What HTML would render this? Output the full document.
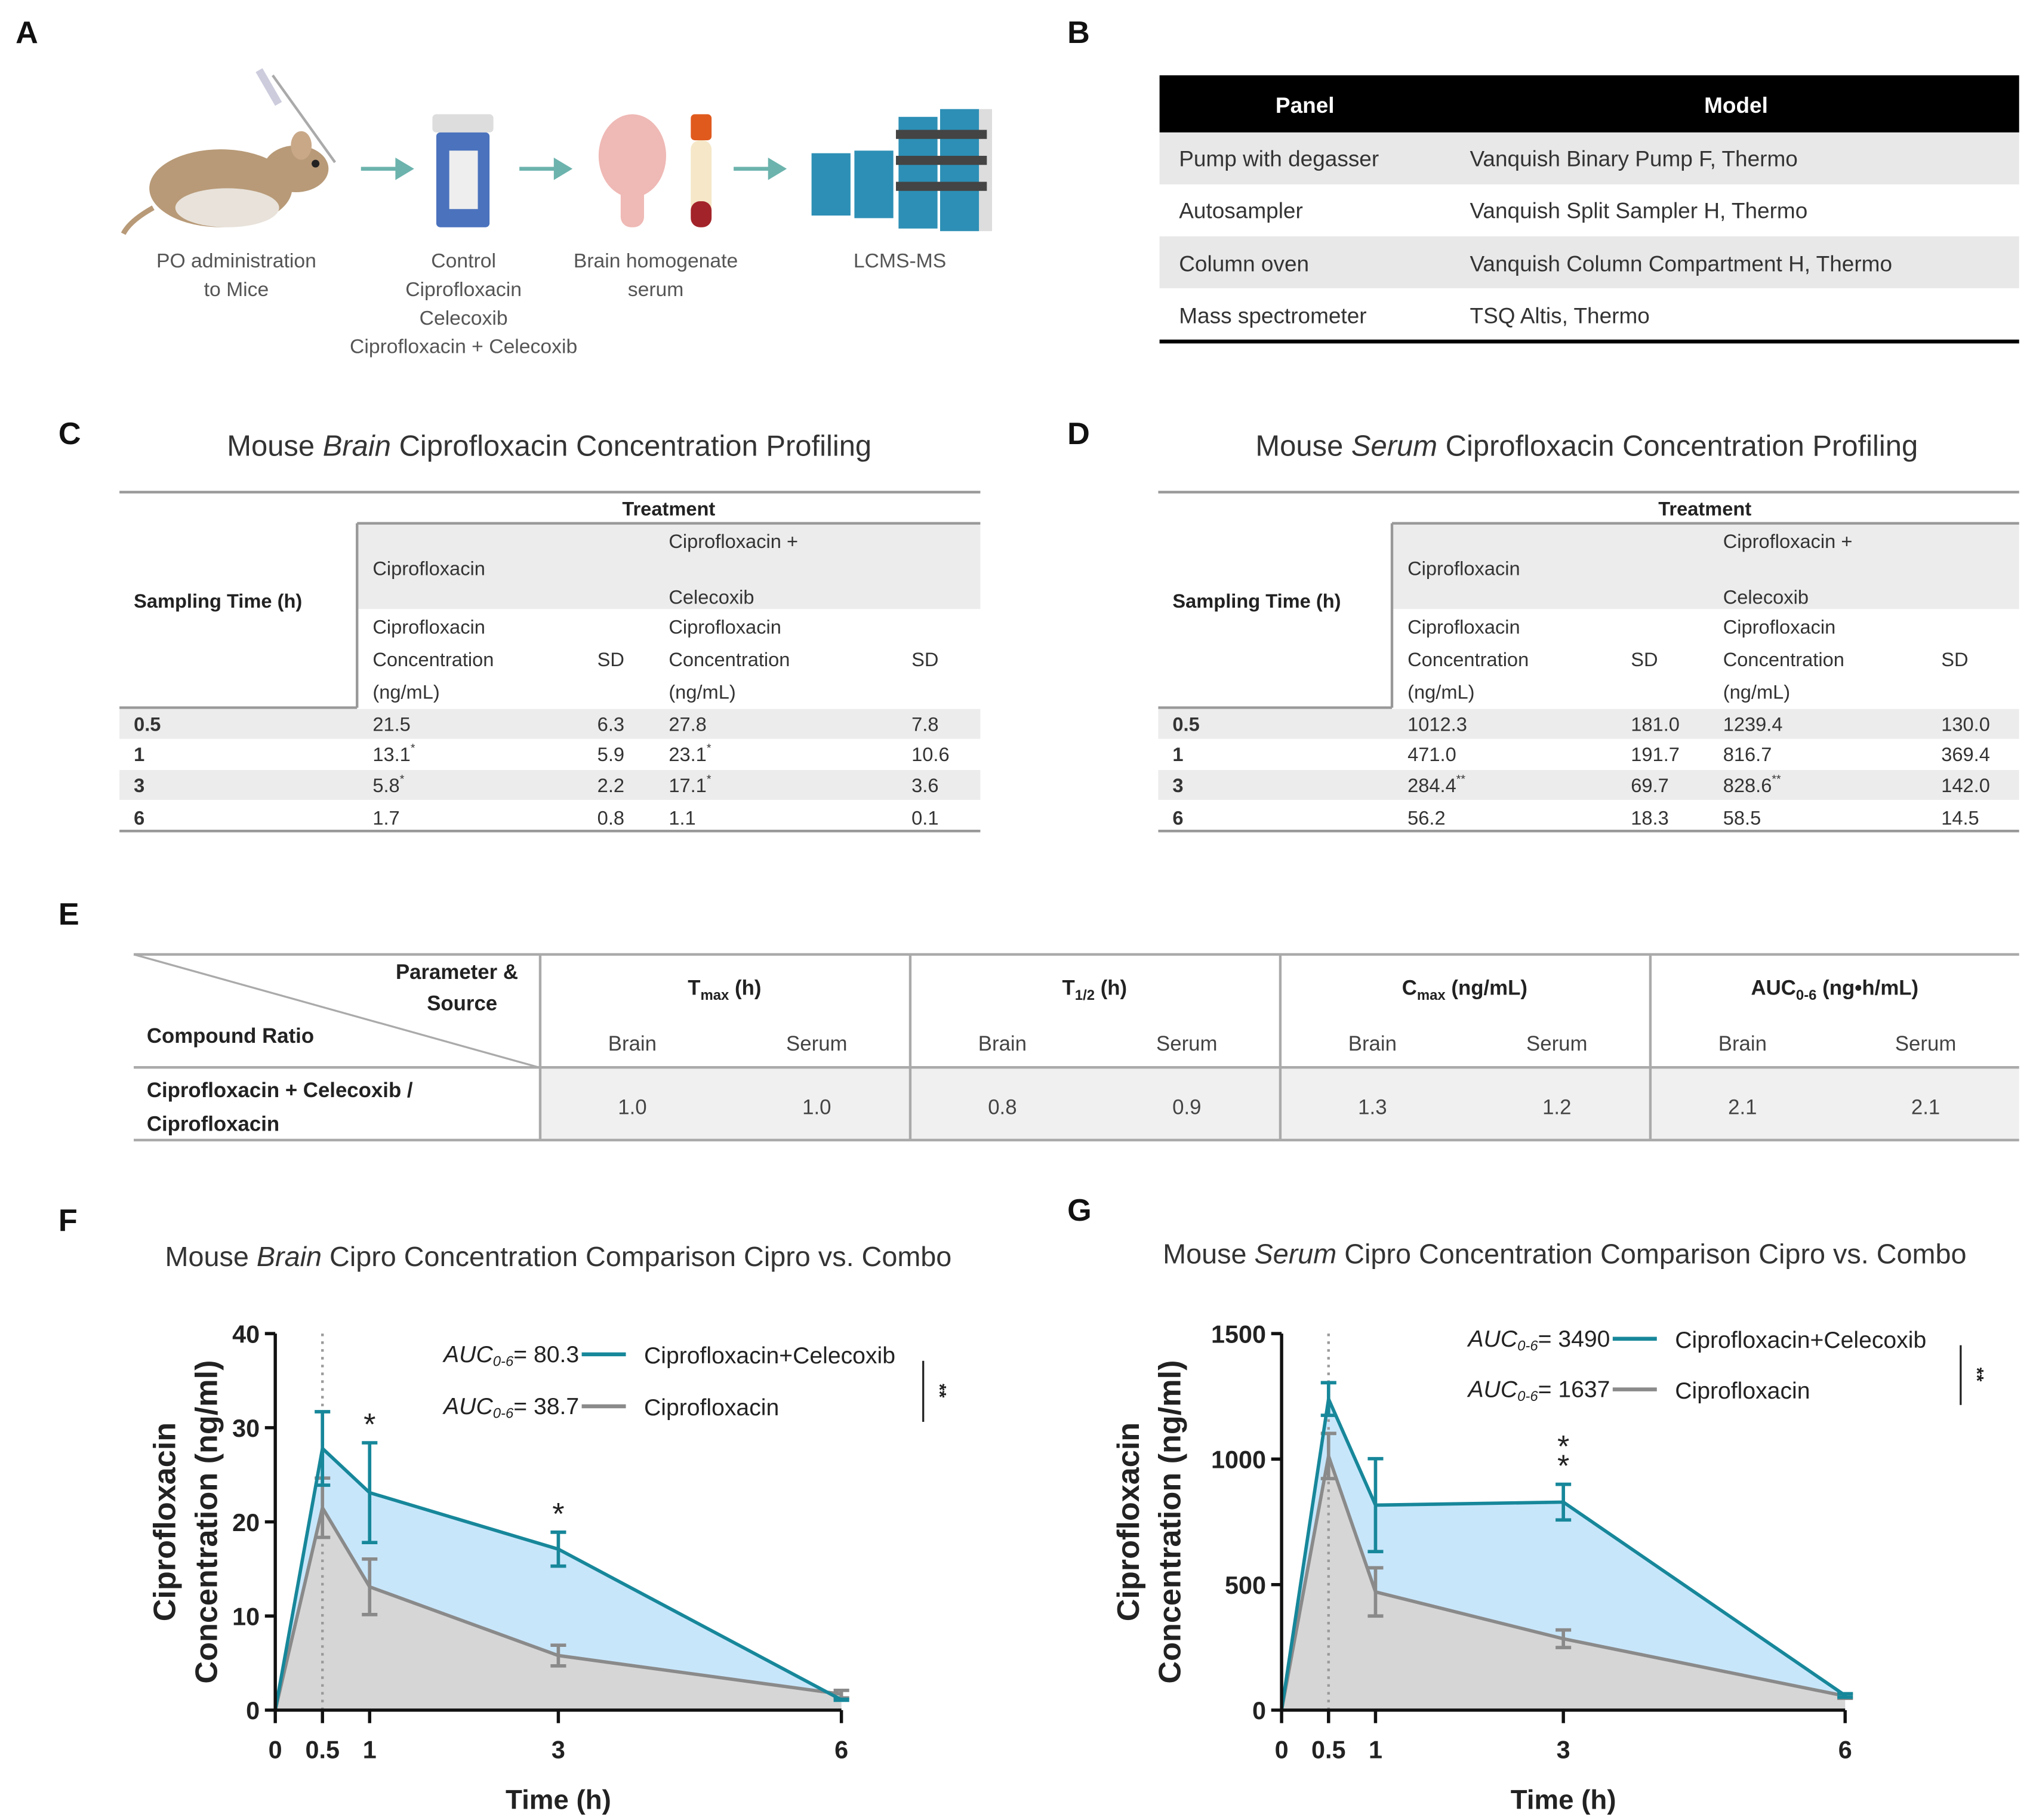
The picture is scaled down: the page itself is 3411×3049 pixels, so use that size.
<!DOCTYPE html>
<html><head><meta charset="utf-8"><style>
html,body{margin:0;padding:0;background:#fff}
svg{display:block}
text{font-family:"Liberation Sans",sans-serif}
</style></head><body>
<svg id="fig" xmlns="http://www.w3.org/2000/svg" width="3411" height="3049" viewBox="0 0 1568 1401.6" preserveAspectRatio="none">
<rect width="1568" height="1402" fill="#fff"/>
<!-- Panel A -->
<g>
<text x="12" y="33" font-size="24" font-weight="bold" fill="#111">A</text>
<g>
<line x1="210" y1="58" x2="258" y2="125" stroke="#aaa" stroke-width="2"/>
<rect x="204" y="52" width="6" height="30" fill="#ccd" transform="rotate(-30 207 67)"/>
<ellipse cx="170" cy="145" rx="55" ry="30" fill="#b89a78"/>
<ellipse cx="175" cy="160" rx="40" ry="15" fill="#e8e2da"/>
<ellipse cx="228" cy="130" rx="25" ry="18" fill="#b89a78"/>
<ellipse cx="232" cy="112" rx="8" ry="11" fill="#c9a888"/>
<circle cx="243" cy="126" r="3" fill="#222"/>
<path d="M118,160 Q100,170 95,180" stroke="#b89a78" stroke-width="4" fill="none"/>
</g>
<g fill="#6cb3ad" stroke="#6cb3ad" stroke-width="3">
<line x1="278" y1="130" x2="308" y2="130"/><path d="M306,124 L316,130 L306,136Z"/>
<line x1="400" y1="130" x2="430" y2="130"/><path d="M428,124 L438,130 L428,136Z"/>
<line x1="565" y1="130" x2="595" y2="130"/><path d="M593,124 L603,130 L593,136Z"/>
</g>
<g>
<rect x="333" y="88" width="47" height="14" rx="3" fill="#ddd"/>
<rect x="336" y="102" width="41" height="73" rx="3" fill="#4a72bd"/>
<rect x="346" y="116" width="22" height="45" fill="#eee"/>
</g>
<g>
<ellipse cx="487" cy="120" rx="26" ry="32" fill="#efb9b5"/>
<rect x="478" y="140" width="18" height="35" rx="8" fill="#efb9b5"/>
<rect x="532" y="88" width="16" height="20" rx="3" fill="#e05a1e"/>
<rect x="532" y="108" width="16" height="67" rx="7" fill="#f5e7c8"/>
<rect x="532" y="155" width="16" height="20" rx="7" fill="#a3232a"/>
</g>
<g>
<rect x="625" y="118" width="30" height="48" fill="#2d8fb5"/>
<rect x="658" y="116" width="30" height="52" fill="#2d8fb5"/>
<rect x="692" y="90" width="30" height="86" fill="#2d8fb5"/>
<rect x="724" y="84" width="30" height="94" fill="#2d8fb5"/>
<rect x="754" y="84" width="10" height="94" fill="#ddd"/>
<rect x="690" y="100" width="70" height="7" fill="#444"/>
<rect x="690" y="120" width="70" height="7" fill="#444"/>
<rect x="690" y="140" width="70" height="7" fill="#444"/>
</g>
<g font-size="15.5" fill="#555" text-anchor="middle">
<text x="182" y="206">PO administration</text><text x="182" y="228">to Mice</text>
<text x="357" y="206">Control</text><text x="357" y="228">Ciprofloxacin</text><text x="357" y="250">Celecoxib</text><text x="357" y="272">Ciprofloxacin + Celecoxib</text>
<text x="505" y="206">Brain homogenate</text><text x="505" y="228">serum</text>
<text x="693" y="206">LCMS-MS</text>
</g>
</g>
<!-- Panel B -->
<g>
<text x="822" y="33" font-size="24" font-weight="bold" fill="#111">B</text>
<rect x="893" y="58" width="662" height="44" fill="#000"/>
<text x="1005" y="87" font-size="17" font-weight="bold" fill="#fff" text-anchor="middle">Panel</text>
<text x="1337" y="87" font-size="17" font-weight="bold" fill="#fff" text-anchor="middle">Model</text>
<rect x="893" y="102" width="662" height="40" fill="#e8e8e8"/>
<rect x="893" y="182" width="662" height="40" fill="#e8e8e8"/>
<line x1="893" y1="263" x2="1555" y2="263" stroke="#000" stroke-width="3"/>
<g font-size="17" fill="#333">
<text x="908" y="128">Pump with degasser</text><text x="1132" y="128">Vanquish Binary Pump F, Thermo</text>
<text x="908" y="168">Autosampler</text><text x="1132" y="168">Vanquish Split Sampler H, Thermo</text>
<text x="908" y="209">Column oven</text><text x="1132" y="209">Vanquish Column Compartment H, Thermo</text>
<text x="908" y="249">Mass spectrometer</text><text x="1132" y="249">TSQ Altis, Thermo</text>
</g>
</g>
<!-- Panel C -->
<g>
<text x="45" y="342" font-size="24" font-weight="bold" fill="#111">C</text>
<text x="423" y="351" font-size="22.5" fill="#333" text-anchor="middle">Mouse <tspan font-style="italic">Brain</tspan> Ciprofloxacin Concentration Profiling</text>
<line x1="92" y1="379" x2="755" y2="379" stroke="#999" stroke-width="2"/>
<text x="515" y="397" font-size="15" font-weight="bold" fill="#222" text-anchor="middle">Treatment</text>
<rect x="275" y="404" width="480" height="65" fill="#ececec"/>
<line x1="275" y1="403" x2="755" y2="403" stroke="#999" stroke-width="2"/>
<line x1="275" y1="403" x2="275" y2="545" stroke="#999" stroke-width="2"/>
<line x1="92" y1="545" x2="275" y2="545" stroke="#999" stroke-width="2"/>
<text x="103" y="468" font-size="15" font-weight="bold" fill="#222">Sampling Time (h)</text>
<g font-size="15" fill="#333">
<text x="287" y="443">Ciprofloxacin</text><text x="515" y="422">Ciprofloxacin +</text><text x="515" y="465">Celecoxib</text>
<text x="287" y="488">Ciprofloxacin</text><text x="287" y="513">Concentration</text><text x="287" y="538">(ng/mL)</text><text x="460" y="513">SD</text>
<text x="515" y="488">Ciprofloxacin</text><text x="515" y="513">Concentration</text><text x="515" y="538">(ng/mL)</text><text x="702" y="513">SD</text>
</g>
<rect x="92" y="546" width="663" height="23" fill="#ececec"/>
<rect x="92" y="593" width="663" height="23" fill="#ececec"/>
<line x1="92" y1="640" x2="755" y2="640" stroke="#999" stroke-width="2"/>
<g font-size="15" fill="#333">
<text x="103" y="563" font-weight="bold">0.5</text><text x="287" y="563">21.5</text><text x="460" y="563">6.3</text><text x="515" y="563">27.8</text><text x="702" y="563">7.8</text>
<text x="103" y="586" font-weight="bold">1</text><text x="287" y="586">13.1<tspan font-size="9" dy="-7">*</tspan></text><text x="460" y="586">5.9</text><text x="515" y="586">23.1<tspan font-size="9" dy="-7">*</tspan></text><text x="702" y="586">10.6</text>
<text x="103" y="610" font-weight="bold">3</text><text x="287" y="610">5.8<tspan font-size="9" dy="-7">*</tspan></text><text x="460" y="610">2.2</text><text x="515" y="610">17.1<tspan font-size="9" dy="-7">*</tspan></text><text x="702" y="610">3.6</text>
<text x="103" y="635" font-weight="bold">6</text><text x="287" y="635">1.7</text><text x="460" y="635">0.8</text><text x="515" y="635">1.1</text><text x="702" y="635">0.1</text>
</g>
</g>
<!-- Panel D -->
<g>
<text x="822" y="342" font-size="24" font-weight="bold" fill="#111">D</text>
<text x="1222" y="351" font-size="22.5" fill="#333" text-anchor="middle">Mouse <tspan font-style="italic">Serum</tspan> Ciprofloxacin Concentration Profiling</text>
<line x1="892" y1="379" x2="1555" y2="379" stroke="#999" stroke-width="2"/>
<text x="1313" y="397" font-size="15" font-weight="bold" fill="#222" text-anchor="middle">Treatment</text>
<rect x="1072" y="404" width="483" height="65" fill="#ececec"/>
<line x1="1072" y1="403" x2="1555" y2="403" stroke="#999" stroke-width="2"/>
<line x1="1072" y1="403" x2="1072" y2="545" stroke="#999" stroke-width="2"/>
<line x1="892" y1="545" x2="1072" y2="545" stroke="#999" stroke-width="2"/>
<text x="903" y="468" font-size="15" font-weight="bold" fill="#222">Sampling Time (h)</text>
<g font-size="15" fill="#333">
<text x="1084" y="443">Ciprofloxacin</text><text x="1327" y="422">Ciprofloxacin +</text><text x="1327" y="465">Celecoxib</text>
<text x="1084" y="488">Ciprofloxacin</text><text x="1084" y="513">Concentration</text><text x="1084" y="538">(ng/mL)</text><text x="1256" y="513">SD</text>
<text x="1327" y="488">Ciprofloxacin</text><text x="1327" y="513">Concentration</text><text x="1327" y="538">(ng/mL)</text><text x="1495" y="513">SD</text>
</g>
<rect x="892" y="546" width="663" height="23" fill="#ececec"/>
<rect x="892" y="593" width="663" height="23" fill="#ececec"/>
<line x1="892" y1="640" x2="1555" y2="640" stroke="#999" stroke-width="2"/>
<g font-size="15" fill="#333">
<text x="903" y="563" font-weight="bold">0.5</text><text x="1084" y="563">1012.3</text><text x="1256" y="563">181.0</text><text x="1327" y="563">1239.4</text><text x="1495" y="563">130.0</text>
<text x="903" y="586" font-weight="bold">1</text><text x="1084" y="586">471.0</text><text x="1256" y="586">191.7</text><text x="1327" y="586">816.7</text><text x="1495" y="586">369.4</text>
<text x="903" y="610" font-weight="bold">3</text><text x="1084" y="610">284.4<tspan font-size="9" dy="-7">**</tspan></text><text x="1256" y="610">69.7</text><text x="1327" y="610">828.6<tspan font-size="9" dy="-7">**</tspan></text><text x="1495" y="610">142.0</text>
<text x="903" y="635" font-weight="bold">6</text><text x="1084" y="635">56.2</text><text x="1256" y="635">18.3</text><text x="1327" y="635">58.5</text><text x="1495" y="635">14.5</text>
</g>
</g>
<!-- Panel E -->
<g>
<text x="45" y="712" font-size="24" font-weight="bold" fill="#111">E</text>
<rect x="416" y="823" width="1139" height="55" fill="#f0f0f0"/>
<line x1="103" y1="735" x2="1555" y2="735" stroke="#aaa" stroke-width="2"/>
<line x1="103" y1="822" x2="1555" y2="822" stroke="#aaa" stroke-width="2"/>
<line x1="103" y1="878" x2="1555" y2="878" stroke="#aaa" stroke-width="2"/>
<line x1="103" y1="735" x2="415" y2="822" stroke="#aaa" stroke-width="1.5"/>
<g stroke="#aaa" stroke-width="2"><line x1="416" y1="735" x2="416" y2="878"/><line x1="701" y1="735" x2="701" y2="878"/><line x1="986" y1="735" x2="986" y2="878"/><line x1="1271" y1="735" x2="1271" y2="878"/></g>
<g font-size="16" font-weight="bold" fill="#222">
<text x="399" y="754" text-anchor="end">Parameter &amp;</text><text x="383" y="778" text-anchor="end">Source</text>
<text x="113" y="803">Compound Ratio</text>
<text x="558" y="766" text-anchor="middle">T<tspan font-size="11" dy="4">max</tspan><tspan dy="-4"> (h)</tspan></text>
<text x="843" y="766" text-anchor="middle">T<tspan font-size="11" dy="4">1/2</tspan><tspan dy="-4"> (h)</tspan></text>
<text x="1128" y="766" text-anchor="middle">C<tspan font-size="11" dy="4">max</tspan><tspan dy="-4"> (ng/mL)</tspan></text>
<text x="1413" y="766" text-anchor="middle">AUC<tspan font-size="11" dy="4">0-6</tspan><tspan dy="-4"> (ng•h/mL)</tspan></text>
<text x="113" y="845">Ciprofloxacin  + Celecoxib  /</text><text x="113" y="871">Ciprofloxacin</text>
</g>
<g font-size="16" fill="#444" text-anchor="middle">
<text x="487" y="809">Brain</text><text x="629" y="809">Serum</text><text x="772" y="809">Brain</text><text x="914" y="809">Serum</text>
<text x="1057" y="809">Brain</text><text x="1199" y="809">Serum</text><text x="1342" y="809">Brain</text><text x="1483" y="809">Serum</text>
<text x="487" y="858">1.0</text><text x="629" y="858">1.0</text><text x="772" y="858">0.8</text><text x="914" y="858">0.9</text>
<text x="1057" y="858">1.3</text><text x="1199" y="858">1.2</text><text x="1342" y="858">2.1</text><text x="1483" y="858">2.1</text>
</g>
</g>
<!-- Panel F/G labels and titles -->
<text x="45" y="948" font-size="24" font-weight="bold" fill="#111">F</text>
<text x="430" y="975" font-size="21.5" fill="#333" text-anchor="middle">Mouse <tspan font-style="italic">Brain</tspan> Cipro Concentration Comparison Cipro vs. Combo</text>
<text x="822" y="940" font-size="24" font-weight="bold" fill="#111">G</text>
<text x="1205" y="973" font-size="21.5" fill="#333" text-anchor="middle">Mouse <tspan font-style="italic">Serum</tspan> Cipro Concentration Comparison Cipro vs. Combo</text>
<g id="chartF"></g>
<g id="chartG"></g>
</svg>
<script>
const timesH = [0, 0.5, 1, 3, 6];
const xTicks = [0, 0.5, 1, 3, 6];
const brainCombo = [0, 27.8, 23.1, 17.1, 1.1];
const brainComboErr = [0, 3.9, 5.3, 1.8, 0.05];
const brainCipro = [0, 21.5, 13.1, 5.8, 1.7];
const brainCiproErr = [0, 3.15, 2.95, 1.1, 0.4];
const brainYTicks = [0, 10, 20, 30, 40];
const brainAUC = ["80.3", "38.7"];
const brainStars = [[1, "*"], [3, "*"]];
const serumCombo = [0, 1239.4, 816.7, 828.6, 58.5];
const serumComboErr = [0, 65, 185, 71, 7];
const serumCipro = [0, 1012.3, 471.0, 284.4, 56.2];
const serumCiproErr = [0, 90, 96, 35, 9];
const serumYTicks = [0, 500, 1000, 1500];
const serumAUC = ["3490", "1637"];
const serumStars = [[3, "**"]];

const NS = "http://www.w3.org/2000/svg";
function mk(parent, tag, attrs, txt) {
  const e = document.createElementNS(NS, tag);
  for (const k in attrs) e.setAttribute(k, attrs[k]);
  if (txt !== undefined) e.textContent = txt;
  parent.appendChild(e);
  return e;
}
function draw(g, o) {
  const xs = t => o.x0 + (o.x1 - o.x0) * t / 6;
  const ys = v => o.y0 - (o.y0 - o.y1) * v / o.ymax;
  const teal = "#17879a", gray = "#8a8a8a";
  const comboPts = timesH.map((t, i) => xs(t) + "," + ys(o.combo[i])).join(" ");
  const ciproPts = timesH.map((t, i) => xs(t) + "," + ys(o.cipro[i])).join(" ");
  const fb = mk(g, "polygon", {points: comboPts + " " + xs(6) + "," + ys(0) + " " + xs(0) + "," + ys(0), fill: "#c8e6fa"});
  
  
  const fg = mk(g, "polygon", {points: ciproPts + " " + xs(6) + "," + ys(0) + " " + xs(0) + "," + ys(0), fill: "#d6d6d6"});
  
  
  const dl = mk(g, "line", {x1: xs(0.5), x2: xs(0.5), y1: o.y1, y2: o.y0, stroke: "#999", "stroke-width": 2, "stroke-dasharray": "2,4"});
  
  
  [[o.cipro, o.ciproErr, gray, "cipro"], [o.combo, o.comboErr, teal, "combo"]].forEach(([vals, errs, col, nm]) => {
    const ln = mk(g, "polyline", {points: timesH.map((t, i) => xs(t) + "," + ys(vals[i])).join(" "), fill: "none", stroke: col, "stroke-width": 2.6});
    
    
    timesH.forEach((t, i) => {
      if (i === 0) return;
      const cx = xs(t), hi = ys(vals[i] + errs[i]), lo = ys(vals[i] - errs[i]);
      const eb = mk(g, "path", {d: `M${cx},${hi}V${lo}M${cx-6},${hi}H${cx+6}M${cx-6},${lo}H${cx+6}`, stroke: col, "stroke-width": 2.6, fill: "none"});
      
      
    });
  });
  mk(g, "line", {x1: o.x0, x2: o.x0, y1: o.y1, y2: o.y0, stroke: "#111", "stroke-width": 2.5});
  mk(g, "line", {x1: o.x0, x2: o.x1, y1: o.y0, y2: o.y0, stroke: "#111", "stroke-width": 2.5});
  o.yTicks.forEach(v => {
    mk(g, "line", {x1: o.x0 - 8, x2: o.x0, y1: ys(v), y2: ys(v), stroke: "#111", "stroke-width": 2.5});
    const tl = mk(g, "text", {x: o.x0 - 12, y: ys(v) + 7, "font-size": 19, "font-weight": "bold", "text-anchor": "end", fill: "#222"}, String(v));
    
    
  });
  xTicks.forEach(t => {
    mk(g, "line", {x1: xs(t), x2: xs(t), y1: o.y0, y2: o.y0 + 10, stroke: "#111", "stroke-width": 2.5});
    const tl = mk(g, "text", {x: xs(t), y: o.y0 + 37, "font-size": 19, "font-weight": "bold", "text-anchor": "middle", fill: "#222"}, String(t));
    
    
  });
  const xt = mk(g, "text", {x: xs(3), y: o.y0 + 76, "font-size": 21, "font-weight": "bold", "text-anchor": "middle", fill: "#222"}, "Time (h)");
  
  
  const cy = (o.y0 + o.y1) / 2;
  const y1t = mk(g, "text", {x: o.ylx, y: cy, "font-size": 24, "font-weight": "bold", "text-anchor": "middle", fill: "#222", transform: `rotate(-90 ${o.ylx} ${cy})`}, "Ciprofloxacin");
  
  
  const y2t = mk(g, "text", {x: o.ylx + 32, y: cy, "font-size": 24, "font-weight": "bold", "text-anchor": "middle", fill: "#222", transform: `rotate(-90 ${o.ylx + 32} ${cy})`}, "Concentration (ng/ml)");
  
  
  o.stars.forEach(([t, s], k) => {
    const sy = ys(o.combo[timesH.indexOf(t)] + o.comboErr[timesH.indexOf(t)]) - 14;
    for (let j = 0; j < s.length; j++) {
      const st = mk(g, "text", {x: xs(t), y: sy + 8 - j * 15, "font-size": 24, "text-anchor": "middle", fill: "#222"}, "*");
      
      
    }
  });
  const names = ["Ciprofloxacin+Celecoxib", "Ciprofloxacin"], cols = [teal, gray];
  [0, 1].forEach(i => {
    const ly = o.legY + i * o.legDy;
    const lt = mk(g, "text", {x: o.legX - 14, y: ly + 6, "font-size": 18, "font-style": "italic", "text-anchor": "end", fill: "#222"});
    
    
    lt.innerHTML = `AUC<tspan font-size="11" dy="3">0-6</tspan><tspan dy="-3" font-style="normal">= ${o.auc[i]}</tspan>`;
    mk(g, "line", {x1: o.legX - 12, x2: o.legX + 22, y1: ly, y2: ly, stroke: cols[i], "stroke-width": 3});
    const le = mk(g, "text", {x: o.legX + 36, y: ly + 7, "font-size": 18, fill: "#222"}, names[i]);
    
    
  });
  mk(g, "line", {x1: o.brX, x2: o.brX, y1: o.legY + 5, y2: o.legY + o.legDy + 12, stroke: "#222", "stroke-width": 1.5});
  const bs = mk(g, "text", {x: o.brX + 8, y: (o.legY * 2 + o.legDy) / 2 + 8, "font-size": 14, "font-weight": "bold", fill: "#222", "text-anchor": "middle", transform: `rotate(90 ${o.brX + 8} ${(o.legY * 2 + o.legDy) / 2 + 8})`}, "**");
  
  
}
draw(document.getElementById("chartF"), {x0: 212, x1: 648, y0: 1317, y1: 1027, ymax: 40, combo: brainCombo, comboErr: brainComboErr, cipro: brainCipro, ciproErr: brainCiproErr, yTicks: brainYTicks, auc: brainAUC, stars: brainStars, ylx: 135, legX: 460, legY: 1043, legDy: 40, brX: 711});
draw(document.getElementById("chartG"), {x0: 987, x1: 1421, y0: 1317, y1: 1027, ymax: 1500, combo: serumCombo, comboErr: serumComboErr, cipro: serumCipro, ciproErr: serumCiproErr, yTicks: serumYTicks, auc: serumAUC, stars: serumStars, ylx: 877, legX: 1254, legY: 1031, legDy: 39, brX: 1510});
</script>
</body></html>
